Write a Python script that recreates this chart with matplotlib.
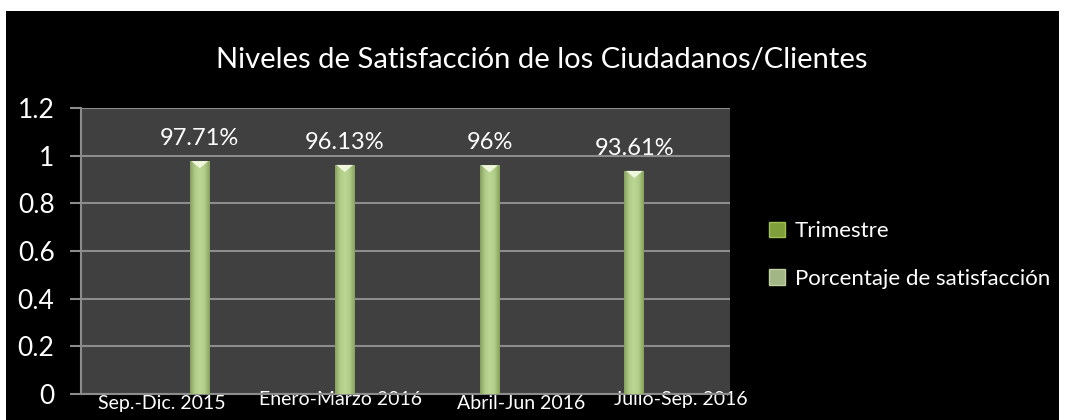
import matplotlib
matplotlib.use("Agg")
import matplotlib.pyplot as plt
import matplotlib.transforms as mtransforms
from matplotlib.patches import Patch, Rectangle, Polygon
from matplotlib.colors import LinearSegmentedColormap
import numpy as np

plt.rcParams['font.family'] = ['Lato', 'DejaVu Sans']

# ---- data ----
categories = ["Sep.-Dic. 2015", "Enero-Marzo 2016", "Abril-Jun 2016", "Julio-Sep. 2016"]
values = [0.9771, 0.9613, 0.96, 0.9361]
value_labels = ["97.71%", "96.13%", "96%", "93.61%"]
yticks = [0, 0.2, 0.4, 0.6, 0.8, 1, 1.2]
ytick_labels = ["0", "0.2", "0.4", "0.6", "0.8", "1", "1.2"]
legend_labels = ["Trimestre", "Porcentaje de satisfacción"]
title = "Niveles de Satisfacción de los Ciudadanos/Clientes"

W, H = 1065, 420
fig = plt.figure(figsize=(W / 100, H / 100), dpi=100)
fig.patch.set_facecolor("white")

# black chart background
fig.add_artist(Rectangle((6 / W, 0), (1059 - 6) / W, (420 - 11) / H,
                         transform=fig.transFigure, facecolor="black",
                         edgecolor="none", zorder=0))

ax = fig.add_axes([81 / W, (420 - 394) / H, 649 / W, 286 / H])
ax.set_facecolor("#404040")
ax.set_zorder(1)

x = np.arange(len(categories))
bars = ax.bar(x, values, width=20 / 145, color="#a8c47e", edgecolor="none", zorder=3)

# horizontal gradient on each bar
grad = np.linspace(0, 1, 64)
grad = 1 - np.abs(grad - 0.5) * 2
grad = grad[np.newaxis, :]
cmap = LinearSegmentedColormap.from_list("g", ["#869f5e", "#b0cc88", "#bad692"])
bevel_h = 0.03  # bevel depth in data units (style)
for b in bars:
    x0, w, h = b.get_x(), b.get_width(), b.get_height()
    im = ax.imshow(grad, extent=(x0, x0 + w, 0, h), aspect="auto", cmap=cmap,
                   zorder=4, interpolation="bicubic")
    im.set_clip_path(b)
    # light bevel triangle at the top of the bar
    ax.add_patch(Polygon([(x0 + w * 0.08, h), (x0 + w * 0.92, h),
                          (x0 + w / 2, h - bevel_h)], closed=True,
                         facecolor="#eef6dc", edgecolor="none", zorder=5))

ax.set_xlim(-0.82, 3.66)
ax.set_ylim(0, 1.2)
ax.set_yticks(yticks)
ax.set_yticklabels(ytick_labels)
ax.grid(axis="y", color="#8c8c8c", linewidth=1.5, zorder=1)
ax.set_axisbelow(True)

for s in ["top", "right"]:
    ax.spines[s].set_visible(False)
ax.spines["left"].set_color("#8c8c8c")
ax.spines["left"].set_linewidth(1.5)
ax.spines["bottom"].set_color("#8c8c8c")
ax.spines["bottom"].set_linewidth(1.5)
ax.tick_params(axis="y", colors="white", labelsize=19, length=8, width=1.5,
               color="#8c8c8c", pad=11)
ax.tick_params(axis="x", colors="white", labelsize=14, length=0, pad=1)

ax.set_xticks(x)
ax.set_xticklabels(categories)
offsets_px = [(-38, 0), (-4, 4), (32, 0), (46, 4)]
for lab, (dx, dy) in zip(ax.get_xticklabels(), offsets_px):
    lab.set_transform(lab.get_transform() +
                      mtransforms.ScaledTranslation(dx / 100, dy / 100, fig.dpi_scale_trans))

for xi, v, t in zip(x, values, value_labels):
    ax.annotate(t, (xi, v), xytext=(0, 8.5), textcoords="offset points",
                ha="center", va="bottom", color="white", fontsize=17, zorder=6)

fig.text(542 / W, 1 - 60 / H, title, ha="center", va="center", color="white",
         fontsize=21)

handles = [Patch(facecolor="#7f9f3c", edgecolor="#9fc050"),
           Patch(facecolor="#a2b585", edgecolor="#c0d0a0")]
leg = fig.legend(handles, legend_labels, loc="center left",
                 bbox_to_anchor=(749 / W, 1 - 255 / H), frameon=False,
                 fontsize=16, labelcolor="white", handlelength=0.7,
                 handleheight=0.7, handletextpad=0.45, labelspacing=1.25)

fig.savefig("out.png", dpi=100, facecolor=fig.get_facecolor())
